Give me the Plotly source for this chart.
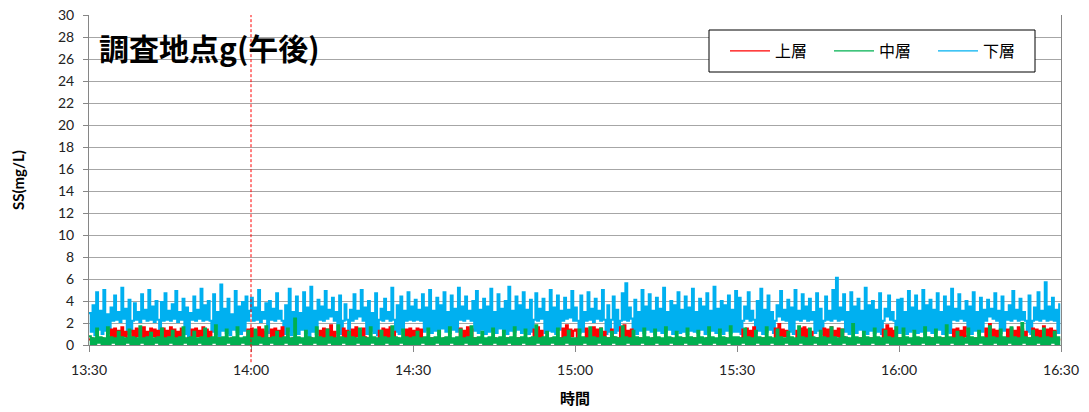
import pandas as pd
import plotly.graph_objects as go

# ---- data (20-second samples, 13:30:00 - 16:29:40) ----
START = "2000-01-01 13:30:00"
STEP = "20s"

blue_1330 = [2.9,1.2,3.6,0.9,4.8,1.4,3.1,1.0,5.0,1.3,2.8,1.1,
             3.4,2.2,4.5,2.3,3.0,2.1,5.2,2.4,3.3,
             1.0,4.1,1.2,
             2.2,3.8,2.3,3.0,2.1,4.6,2.4,3.2,2.2,5.0,2.3,3.5,2.1,4.0,2.3,
             1.1,3.9,
             2.2,4.7,2.3,3.1,2.2,3.7,2.4,4.9,2.1,3.0,2.3,4.2,
             1.0,3.4,0.6,2.9,
             2.3,4.4,2.2,3.2,2.4,5.1,2.2,3.6,2.3,4.0,2.2,
             1.2,4.6,1.0,3.0,0.8,5.5,1.3,3.3,1.1,4.2,0.9,2.8,1.4,4.9,1.2,3.5,1.0,3.9,1.3,4.4,
             2.2,3.1]
blue_1400 = [4.3,2.2,3.4,2.3,5.0,2.1,3.0,2.4,3.8,
             1.1,4.0,
             2.3,3.3,2.2,4.7,2.4,3.1,2.2,
             1.0,3.6,1.3,5.1,0.9,3.0,1.2,4.4,1.0,2.9,1.4,4.8,1.1,3.4,0.8,5.3,1.2,3.1,1.0,4.1,
             2.3,3.5,2.2,4.9,2.4,3.2,2.6,4.3,2.2,3.0,
             1.1,4.5,1.0,
             2.2,3.7,2.3,
             1.2,3.2,
             2.2,4.6,2.4,3.1,2.6,5.0,2.2,3.4,
             1.0,4.0,1.3,2.9,1.1,4.7,0.9,
             2.3,3.3,2.2,4.2,2.4,3.0,2.2,5.2,2.3,
             1.2,3.6,1.0,4.4,1.3,3.1,
             2.2,4.8,2.3,3.5]
blue_1430 = [2.2,4.1,2.3,3.2,2.2,4.6,
             1.2,3.4,1.4,5.0,1.1,3.1,1.3,4.3,1.0,3.6,1.5,4.8,1.2,3.0,1.1,4.5,1.4,3.3,1.2,5.2,
             2.3,3.5,2.2,4.4,2.4,3.1,2.2,4.0,
             1.3,4.9,1.1,3.2,1.4,4.2,1.0,3.5,1.2,5.1,1.3,3.0,1.1,4.6,1.5,3.3,1.2,4.0,1.0,5.3,
             1.3,3.1,1.2,4.4,1.4,3.6,1.1,4.8,1.3,3.2,1.0,4.1,1.2,
             2.3,4.7,2.2,3.3,2.4,4.2,
             1.1,3.0,1.3,5.0,1.2,3.4,1.0,4.5,1.4,3.1,
             2.2,4.3,2.4,3.2,2.5,4.9,2.2]
blue_1500 = [3.4,2.2,
             1.1,4.5,1.2,3.0,
             2.2,4.8,2.3,3.3,2.1,4.2,2.4,3.1,2.2,5.0,2.3,
             1.0,3.6,1.2,
             2.3,4.4,
             1.1,3.2,1.3,
             2.2,4.7,2.3,5.6,2.2,3.4,2.4,
             1.2,4.1,1.0,3.0,1.3,5.0,1.1,3.5,1.4,4.6,
             1.2,3.1,1.0,4.3,1.3,3.3,1.1,5.2,1.2,3.0,
             1.4,4.0,1.0,3.6,1.3,4.8,1.1,3.2,1.2,4.4,
             1.0,3.4,1.3,5.1,1.2,3.0,1.1,4.2,1.4,3.5,
             1.0,4.7,1.2,3.1,1.3,5.3,1.1,3.3,1.2,4.0,
             1.0,3.6,1.3,4.5,1.1,3.2,1.2,4.9]
blue_1530 = [1.2,4.3,1.0,
             2.2,3.5,2.4,4.8,2.2,3.1,2.3,
             1.1,4.0,1.3,5.1,1.0,3.2,1.2,4.5,1.4,3.0,1.1,
             2.2,3.6,2.6,4.9,2.3,3.2,2.2,4.1,
             1.2,3.4,1.0,5.0,
             2.3,3.1,2.2,4.6,2.4,3.5,2.2,4.2,2.3,3.0,
             1.1,4.7,1.3,3.3,1.0,
             2.2,4.4,2.3,3.1,2.2,5.0,2.4,6.1,2.2,3.4,2.3,4.6,
             1.2,3.0,1.0,4.8,1.3,3.5,1.1,4.2,1.4,3.1,1.2,5.2,1.0,3.6,1.3,4.0,1.1,3.2,1.2,4.7,1.0,
             2.2,3.3,2.6,4.5,2.3,3.0,2.2,
             1.1,4.1]
blue_1600 = [1.1,4.2,1.3,3.0,1.0,4.9,1.2,3.4,1.4,4.5,1.1,3.1,1.2,5.0,1.0,
             3.6,1.3,4.1,1.1,3.2,1.2,4.7,1.4,3.0,1.0,4.4,1.2,3.5,1.1,5.1,
             2.3,3.3,2.2,4.6,2.4,3.1,2.2,4.0,
             1.2,3.5,1.0,4.8,1.3,3.0,1.1,4.3,1.2,3.2,
             2.2,4.1,2.6,3.3,2.4,4.7,2.2,3.1,
             1.1,4.4,1.3,3.0,
             2.3,3.6,2.2,4.9,2.4,3.2,2.2,4.2,2.3,3.0,2.2,
             1.2,4.5,1.0,
             2.2,3.4,2.3,4.8,2.2,3.1,2.4,5.7,2.2,3.5,2.3,4.3,2.2,3.2,
             1.1,3.8]

red_1330 = [0.5,0.6,0.5,0.4,0.6,0.5,0.5,0.6,0.4,0.5,0.6,0.5,
            1.4,0.6,1.5,0.7,1.3,0.5,1.6,0.8,1.2,
            0.5,0.6,0.5,
            1.3,0.6,1.5,0.8,1.4,0.5,1.6,0.7,1.2,0.6,1.5,0.8,1.4,0.5,1.3,
            0.5,0.6,
            1.5,0.7,1.3,0.5,1.6,0.8,1.4,0.6,1.2,0.7,1.5,0.6,
            0.5,0.4,0.6,0.5,
            1.4,0.6,1.5,0.8,1.3,0.5,1.6,0.7,1.4,0.6,1.2,
            0.5,0.6,0.4,0.5,0.6,0.5,0.5,0.4,0.6,0.5,0.5,0.6,0.4,0.5,0.6,0.5,0.5,0.4,0.6,0.5,
            1.4,0.7]
red_1400 = [1.5,0.6,1.3,0.8,1.6,0.5,1.4,0.7,1.2,
            0.5,0.6,
            1.4,0.6,1.5,0.7,1.3,0.5,1.6,
            0.5,0.4,0.6,0.5,0.5,0.6,0.4,0.5,0.6,0.5,0.5,0.4,0.6,0.5,0.5,0.6,0.4,0.5,0.6,0.5,
            1.3,0.7,1.5,0.6,1.4,0.8,1.8,0.5,1.2,0.6,
            0.5,0.6,0.5,
            1.5,0.7,1.3,
            0.5,0.6,
            1.4,0.6,1.6,0.8,1.3,0.5,1.5,0.7,
            0.5,0.6,0.4,0.5,0.6,0.5,0.5,
            1.3,0.6,1.5,0.7,1.4,0.5,1.6,0.8,1.2,
            0.5,0.6,0.4,0.5,0.6,0.5,
            1.4,0.7,1.5,0.6]
red_1430 = [1.3,0.6,1.5,0.7,1.4,0.5,
            0.5,0.6,0.4,0.5,0.6,0.5,0.5,0.4,0.6,0.5,0.5,0.6,0.4,0.5,0.6,0.5,0.5,0.4,0.6,0.5,
            1.5,0.7,1.3,0.6,1.6,0.8,1.4,0.6,
            0.5,0.6,0.4,0.5,0.6,0.5,0.5,0.4,0.6,0.5,0.5,0.6,0.4,0.5,0.6,0.5,0.5,0.4,0.6,0.5,
            0.5,0.6,0.4,0.5,0.6,0.5,0.5,0.4,0.6,0.5,0.5,0.6,0.4,
            1.4,0.6,1.6,0.7,1.3,0.5,
            0.5,0.6,0.4,0.5,0.6,0.5,0.5,0.4,0.6,0.5,
            1.5,0.7,1.8,0.6,1.4,0.8,1.3]
red_1500 = [1.4,0.6,
            0.5,0.6,0.4,0.5,
            1.5,0.6,1.3,0.5,1.6,0.7,1.4,0.6,1.5,0.8,1.2,
            0.5,0.6,0.5,
            1.4,0.7,
            0.5,0.6,0.4,
            1.6,0.6,1.8,0.7,1.3,0.5,1.4,
            0.5,0.6,0.4,0.5,0.6,0.5,0.5,0.4,0.6,0.5,
            0.5,0.6,0.4,0.5,0.6,0.5,0.5,0.4,0.6,0.5,
            0.5,0.6,0.4,0.5,0.6,0.5,0.5,0.4,0.6,0.5,
            0.5,0.6,0.4,0.5,0.6,0.5,0.5,0.4,0.6,0.5,
            0.5,0.6,0.4,0.5,0.6,0.5,0.5,0.4,0.6,0.5,
            0.5,0.6,0.4,0.5,0.6,0.5,0.5,0.4]
red_1530 = [0.5,0.6,0.4,
            1.4,0.6,1.5,0.7,1.3,0.5,1.6,
            0.5,0.6,0.4,0.5,0.6,0.5,0.5,0.4,0.6,0.5,0.5,
            1.5,0.7,1.9,0.6,1.4,0.8,1.3,0.6,
            0.5,0.6,0.4,0.5,
            1.3,0.6,1.5,0.7,1.6,0.5,1.4,0.8,1.2,0.6,
            0.5,0.6,0.4,0.5,0.6,
            1.5,0.6,1.4,0.7,1.6,0.5,1.3,0.8,1.5,0.6,1.4,0.7,
            0.5,0.6,0.4,0.5,0.6,0.5,0.5,0.4,0.6,0.5,0.5,0.6,0.4,0.5,0.6,0.5,0.5,0.4,0.6,0.5,0.5,
            1.4,0.6,1.8,0.7,1.5,0.5,1.3,
            0.5,0.6]
red_1600 = [0.5,0.6,0.4,0.5,0.6,0.5,0.5,0.4,0.6,0.5,
            0.5,0.6,0.4,0.5,0.6,0.5,0.5,0.4,0.6,0.5,
            0.5,0.6,0.4,0.5,0.6,0.5,0.5,0.4,0.6,0.5,
            1.4,0.6,1.5,0.7,1.3,0.5,1.6,0.8,
            0.5,0.6,0.4,0.5,0.6,0.5,0.5,0.4,0.6,0.5,
            1.5,0.7,1.9,0.6,1.4,0.5,1.3,0.7,
            0.5,0.6,0.4,0.5,
            1.4,0.6,1.5,0.8,1.3,0.5,1.6,0.7,1.4,0.6,1.2,
            0.5,0.6,0.4,
            1.5,0.6,1.4,0.7,1.3,0.5,1.7,0.8,1.4,0.6,1.5,0.7,1.3,0.6,
            0.5,0.6]

green_1330 = [0.8,0.1,0.6,0.0,1.5,0.2,0.7,0.1,0.6,0.0, 1.6,0.1,0.7,0.2,0.6,0.0,1.2,0.1,0.7,0.0,
              0.6,0.2,1.4,0.1,0.7,0.0,0.6,0.1,1.7,0.2, 0.6,0.0,0.7,0.1,1.1,0.0,0.6,0.2,0.7,0.1,
              1.5,0.0,0.6,0.1,0.7,0.2,1.3,0.0,0.6,0.1, 0.7,0.0,1.6,0.2,0.6,0.1,0.7,0.0,1.2,0.1,
              0.6,0.2,0.7,0.0,1.5,0.1,0.6,0.0,0.7,0.2, 1.8,0.1,0.6,0.0,0.7,0.1,1.4,0.2,0.6,0.0,
              0.7,0.1,1.6,0.0,0.6,0.2,0.7,0.1,1.3,0.0]
green_1400 = [0.6,0.1,1.4,0.0,0.7,0.2,0.6,0.1,1.7,0.0, 0.6,0.2,0.7,0.1,1.2,0.0,0.6,0.1,0.7,0.2,
              1.5,0.0,0.6,0.1,2.4,0.0,0.7,0.2,0.6,0.1, 1.3,0.0,0.7,0.1,0.6,0.2,1.6,0.0,0.7,0.1,
              0.6,0.0,1.4,0.2,0.7,0.1,0.6,0.0,1.8,0.1, 0.7,0.2,0.6,0.0,1.2,0.1,0.7,0.0,0.6,0.2,
              1.5,0.1,0.7,0.0,0.6,0.1,1.6,0.2,0.7,0.0, 0.6,0.1,1.3,0.0,0.7,0.2,0.6,0.1,1.7,0.0,
              0.7,0.1,0.6,0.2,1.4,0.0,0.7,0.1,0.6,0.0]
green_1430 = [0.7,0.1,1.2,0.0,0.6,0.2,0.7,0.1,1.5,0.0, 0.6,0.1,0.7,0.2,1.3,0.0,0.6,0.1,0.7,0.0,
              1.6,0.2,0.6,0.1,0.7,0.0,1.4,0.1,0.6,0.2, 0.7,0.0,1.7,0.1,0.6,0.0,0.7,0.2,1.2,0.1,
              0.6,0.0,0.7,0.1,1.5,0.2,0.6,0.0,0.7,0.1, 1.3,0.0,0.6,0.2,0.7,0.1,1.6,0.0,0.6,0.1,
              0.7,0.2,1.4,0.0,0.6,0.1,0.7,0.0,1.8,0.2, 0.6,0.1,0.7,0.0,1.2,0.1,0.6,0.2,0.7,0.0,
              1.5,0.1,0.6,0.0,0.7,0.2,1.3,0.1,0.6,0.0]
green_1500 = [0.6,0.1,1.4,0.0,0.7,0.2,0.6,0.1,1.6,0.0, 0.7,0.1,0.6,0.2,1.5,0.0,0.7,0.1,0.6,0.0,
              1.2,0.2,0.7,0.1,0.6,0.0,1.7,0.1,0.7,0.2, 0.6,0.0,1.3,0.1,0.7,0.0,0.6,0.2,1.5,0.1,
              0.7,0.0,0.6,0.1,1.4,0.2,0.7,0.0,0.6,0.1, 1.6,0.0,0.7,0.2,0.6,0.1,1.2,0.0,0.7,0.1,
              0.6,0.2,1.5,0.0,0.7,0.1,0.6,0.0,1.3,0.2, 0.7,0.1,0.6,0.0,1.6,0.1,0.7,0.2,0.6,0.0,
              1.4,0.1,0.7,0.0,0.6,0.2,1.7,0.1,0.7,0.0]
green_1530 = [0.7,0.1,0.6,0.2,1.5,0.0,0.7,0.1,0.6,0.0, 1.3,0.2,0.7,0.1,0.6,0.0,1.6,0.1,0.7,0.2,
              0.6,0.0,1.4,0.1,0.7,0.0,0.6,0.2,1.2,0.1, 0.7,0.0,0.6,0.1,1.7,0.2,0.7,0.0,0.6,0.1,
              1.5,0.0,0.7,0.2,0.6,0.1,1.3,0.0,0.7,0.1, 0.6,0.2,1.6,0.0,0.7,0.1,0.6,0.0,1.4,0.2,
              0.7,0.1,0.6,0.0,1.9,0.1,0.7,0.2,0.6,0.0, 1.2,0.1,0.7,0.0,0.6,0.2,1.5,0.1,0.7,0.0,
              0.6,0.1,1.3,0.2,0.7,0.0,0.6,0.1,1.6,0.0]
green_1600 = [0.6,0.1,1.5,0.0,0.7,0.2,0.6,0.1,1.3,0.0, 0.7,0.1,0.6,0.2,1.6,0.0,0.7,0.1,0.6,0.0,
              1.4,0.2,0.7,0.1,0.6,0.0,1.8,0.1,0.7,0.2, 0.6,0.0,1.2,0.1,0.7,0.0,0.6,0.2,1.5,0.1,
              0.7,0.0,0.6,0.1,1.3,0.2,0.7,0.0,0.6,0.1, 1.7,0.0,0.7,0.2,0.6,0.1,1.4,0.0,0.7,0.1,
              0.6,0.2,1.6,0.0,0.7,0.1,0.6,0.0,2.0,0.2, 0.7,0.1,0.6,0.0,1.3,0.1,0.7,0.2,0.6,0.0,
              1.5,0.1,0.7,0.0,0.6,0.2,1.2,0.1,0.7,0.0]

series_names = ["上層", "中層", "下層"]
series_colors = ["#FF0000", "#00B050", "#00B0F0"]
marker_time = "2000-01-01 14:00:00"
x_range = ["2000-01-01 13:30:00", "2000-01-01 16:30:00"]
title_text = "調査地点g(午後)"
x_title = "時間"
y_title = "SS(mg/L)"

upper = red_1330 + red_1400 + red_1430 + red_1500 + red_1530 + red_1600
middle = green_1330 + green_1400 + green_1430 + green_1500 + green_1530 + green_1600
lower = blue_1330 + blue_1400 + blue_1430 + blue_1500 + blue_1530 + blue_1600
times = pd.date_range(START, periods=len(lower), freq=STEP)

JP = "Noto Sans CJK JP"
NUM = "Lato, Noto Sans CJK JP"

fig = go.Figure()
series = dict(zip(series_names, [upper, middle, lower]))
colors = dict(zip(series_names, series_colors))
# data traces: lower layer at the back, then upper, then middle (dense samples drawn as steps)
for name in ["下層", "上層", "中層"]:
    fig.add_trace(go.Scatter(x=times, y=series[name], mode="lines", name=name, showlegend=False,
                             line=dict(color=colors[name], width=2.1, shape="hv")))
# legend entries (thin sample lines)
for rank, name in enumerate(series_names):
    fig.add_trace(go.Scatter(x=[None], y=[None], mode="lines", name=name, legendrank=rank + 1,
                             line=dict(color=colors[name], width=1.3)))

fig.add_shape(type="line", xref="x", yref="paper", x0=marker_time, x1=marker_time,
              y0=-0.052, y1=1, line=dict(color="#FF0000", width=1, dash="3px,2px"), layer="above")

# legend frame
fig.add_shape(type="rect", xref="paper", yref="paper",
              x0=(709 - 89) / 972, x1=(1035 - 89) / 972,
              y0=1 - (72 - 15) / 330, y1=1 - (30 - 15) / 330,
              line=dict(color="#000", width=1), fillcolor="white", layer="above")

fig.add_annotation(text="<b>" + title_text + "</b>", xref="paper", yref="paper",
                   x=0.008, y=1 - (47 - 15) / 330, xanchor="left", yanchor="middle", showarrow=False,
                   font=dict(family=JP, size=30, color="#000"))
fig.add_annotation(text="<b>" + x_title + "</b>", xref="paper", yref="paper",
                   x=0.5, y=-0.16, xanchor="center", yanchor="middle", showarrow=False,
                   font=dict(family=JP, size=15, color="#000"))
fig.add_annotation(text="<b>" + y_title + "</b>", xref="paper", yref="paper",
                   x=-0.073, y=0.5, xanchor="center", yanchor="middle", showarrow=False,
                   textangle=-90, font=dict(family=NUM, size=15, color="#000"))

fig.update_layout(
    width=1089, height=412,
    margin=dict(l=89, r=28, t=15, b=67, autoexpand=False),
    paper_bgcolor="white", plot_bgcolor="white",
    showlegend=True,
    legend=dict(orientation="h", x=(725 - 89) / 972, y=1 - (51 - 15) / 330,
                xanchor="left", yanchor="middle",
                bgcolor="rgba(0,0,0,0)", borderwidth=0,
                font=dict(family=JP, size=16, color="#000"),
                entrywidth=49, itemwidth=40, traceorder="normal"),
    xaxis=dict(type="date", range=x_range, tickformat="%H:%M", dtick=1800000,
               tick0=x_range[0], ticks="outside", ticklen=6, tickcolor="#868686",
               showline=True, linecolor="#868686", linewidth=1, showgrid=False, zeroline=False,
               ticklabelstandoff=6,
               tickfont=dict(family=NUM, size=14, color="#222")),
    yaxis=dict(range=[0, 30], dtick=2, ticks="outside", ticklen=5, tickcolor="#868686",
               showline=True, linecolor="#868686", linewidth=1, mirror=True,
               showgrid=True, gridcolor="#A6A6A6", gridwidth=1, zeroline=False,
               ticklabelstandoff=6,
               tickfont=dict(family=NUM, size=14, color="#222")),
)

fig.write_html("out.html")
